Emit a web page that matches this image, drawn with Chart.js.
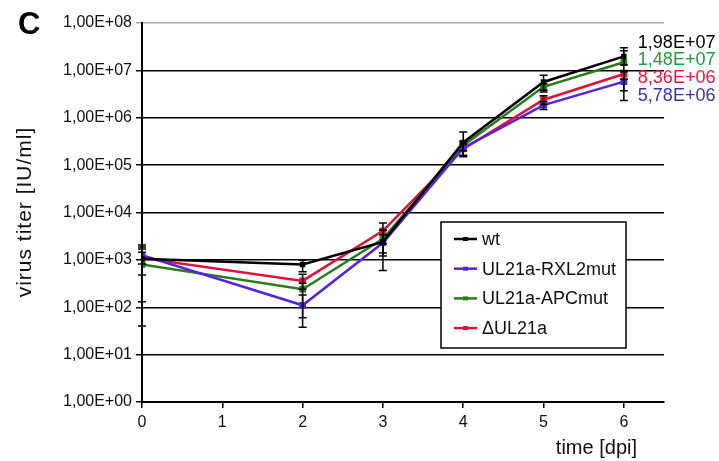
<!DOCTYPE html>
<html>
<head>
<meta charset="utf-8">
<script src="https://cdn.jsdelivr.net/npm/chart.js@4"></script>
<style>
  html, body { margin: 0; padding: 0; background: #fff; }
  #wrap { width: 719px; height: 461px; position: relative; }
</style>
</head>
<body>
<div id="wrap"><canvas id="myChart" width="719" height="461"></canvas></div>
<script>
const days = [0, 2, 3, 4, 5, 6];
const xTicks = [0, 1, 2, 3, 4, 5, 6];
const yTicks = [1, 10, 100, 1e3, 1e4, 1e5, 1e6, 1e7, 1e8];
const seriesNames = ['wt', 'UL21a-RXL2mut', 'UL21a-APCmut', '\u0394UL21a'];

const wtTiter = [1050, 800, 2400, 3.0e5, 5.7e6, 1.98e7];
const rxlTiter = [1250, 110, 2300, 2.3e5, 1.85e6, 5.78e6];
const apcTiter = [800, 240, 2800, 2.6e5, 4.5e6, 1.48e7];
const delTiter = [1100, 360, 4100, 2.2e5, 2.4e6, 8.36e6];

const wtLow = [40, 560, 600, 1.6e5, 3.5e6, 1.3e7];
const wtHigh = [2050, 1000, 4200, 5.0e5, 7.9e6, 3.0e7];
const rxlLow = [820, 38, 1200, 1.5e5, 1.5e6, 2.3e6];
const rxlHigh = [1860, 182, 3400, 3.1e5, 2.2e6, 9.3e6];
const apcLow = [480, 60, 1400, 2.0e5, 3.8e6, 3.7e6];
const apcHigh = [1450, 320, 4200, 3.2e5, 5.2e6, 2.6e7];
const delLow = [130, 240, 2200, 1.6e5, 1.9e6, 6.5e6];
const delHigh = [1700, 500, 6000, 2.8e5, 2.9e6, 1.0e7];

const FONT = '"Liberation Sans", Arial, sans-serif';

function sci(v) {
  const s = v.toExponential(2).split('e');
  const exp = parseInt(s[1], 10);
  const e = (exp < 0 ? '-' : '+') + String(Math.abs(exp)).padStart(2, '0');
  return s[0].replace('.', ',') + 'E' + e;
}

function pts(vals) {
  return days.map((d, i) => ({ x: d, y: vals[i] }));
}

const lineColors = ['#000000', '#5422e0', '#2b7a1e', '#e0103c'];
const labelColors = ['#000000', '#3636a6', '#1f9e40', '#ee1540'];
const titers = [wtTiter, rxlTiter, apcTiter, delTiter];
const lows = [wtLow, rxlLow, apcLow, delLow];
const highs = [wtHigh, rxlHigh, apcHigh, delHigh];

const extras = {
  id: 'extras',
  afterDatasetsDraw(chart) {
    const ctx = chart.ctx;
    const xs = chart.scales.x, ys = chart.scales.y;
    ctx.save();
    // error bars
    ctx.strokeStyle = '#000';
    ctx.lineWidth = 1.5;
    for (let s = 0; s < 4; s++) {
      days.forEach((d, i) => {
        const px = xs.getPixelForValue(d);
        const y1 = ys.getPixelForValue(lows[s][i]);
        const y2 = ys.getPixelForValue(highs[s][i]);
        ctx.beginPath();
        ctx.moveTo(px, y1); ctx.lineTo(px, y2);
        ctx.moveTo(px - 4, y1); ctx.lineTo(px + 4, y1);
        ctx.moveTo(px - 4, y2); ctx.lineTo(px + 4, y2);
        ctx.stroke();
      });
    }
    // end labels, nudged apart like the original
    ctx.font = '18px ' + FONT;
    ctx.textBaseline = 'middle';
    ctx.textAlign = 'left';
    for (let s = 0; s < 4; s++) {
      const last = titers[s].length - 1;
      const px = xs.getPixelForValue(days[last]) + 14;
      const py = ys.getPixelForValue(titers[s][last]);
      const o = [-13, 14, -2, 4][s];
      ctx.fillStyle = labelColors[s];
      ctx.fillText(sci(titers[s][last]), px, py + o);
    }
    // legend
    const lx = 441, ly = 222, lw = 185, lh = 126;
    ctx.fillStyle = '#fff';
    ctx.fillRect(lx, ly, lw, lh);
    ctx.strokeStyle = '#000';
    ctx.lineWidth = 1.5;
    ctx.strokeRect(lx, ly, lw, lh);
    ctx.font = '18px ' + FONT;
    seriesNames.forEach((name, s) => {
      const ry = 239 + s * 29.7;
      ctx.strokeStyle = lineColors[s];
      ctx.lineWidth = 2.5;
      ctx.beginPath();
      ctx.moveTo(454, ry); ctx.lineTo(477, ry);
      ctx.stroke();
      ctx.fillStyle = lineColors[s];
      ctx.fillRect(463, ry - 2, 5, 4);
      ctx.fillStyle = '#111';
      ctx.fillText(name, 482, ry + 1);
    });
    // titles
    ctx.fillStyle = '#111';
    ctx.font = '20px ' + FONT;
    ctx.textAlign = 'right';
    ctx.fillText('time [dpi]', 637, 448);
    ctx.save();
    ctx.translate(25, 212);
    ctx.rotate(-Math.PI / 2);
    ctx.textAlign = 'center';
    ctx.font = '21px ' + FONT;
    ctx.letterSpacing = '1px';
    ctx.fillText('virus titer [IU/ml]', 0, 0);
    ctx.restore();
    ctx.font = 'bold 31px ' + FONT;
    ctx.textAlign = 'left';
    ctx.fillStyle = '#000';
    ctx.fillText('C', 18, 25);
    ctx.restore();
  }
};

const ctx = document.getElementById('myChart').getContext('2d');
const chart = new Chart(ctx, {
  type: 'line',
  data: {
    datasets: seriesNames.map((name, s) => ({
      label: name,
      data: pts(titers[s]),
      borderColor: lineColors[s],
      backgroundColor: lineColors[s],
      borderWidth: 2.5,
      pointStyle: 'rect',
      pointRadius: s === 0 ? 2 : 3,
      tension: 0,
    })),
  },
  options: {
    responsive: false,
    animation: false,
    layout: { padding: { left: 0, right: 55, top: 23, bottom: 0 } },
    plugins: { legend: { display: false }, tooltip: { enabled: false } },
    scales: {
      x: {
        type: 'linear',
        min: 0,
        max: 6.5,
        afterBuildTicks: (scale) => { scale.ticks = xTicks.map(v => ({ value: v })); },
        afterFit: (scale) => { scale.height = 59; },
        border: { color: '#000', width: 2 },
        grid: { drawOnChartArea: false, drawTicks: true, tickLength: 6, color: '#000', lineWidth: 1.5 },
        ticks: { color: '#111', font: { family: FONT, size: 16 }, padding: 5, maxRotation: 0 },
      },
      y: {
        type: 'logarithmic',
        min: 1,
        max: 1e8,
        afterBuildTicks: (scale) => { scale.ticks = yTicks.map(v => ({ value: v })); },
        afterFit: (scale) => { scale.width = 142; },
        border: { color: '#000', width: 2 },
        grid: {
          drawTicks: true,
          tickLength: 6,
          lineWidth: 1.5,
          color: (c) => (c.tick && c.tick.value === 1e8 ? '#aaaaaa' : '#000'),
        },
        ticks: {
          color: '#111',
          font: { family: FONT, size: 16 },
          padding: 4,
          callback: (v) => sci(v),
        },
      },
    },
  },
  plugins: [extras],
});
</script>
</body>
</html>
